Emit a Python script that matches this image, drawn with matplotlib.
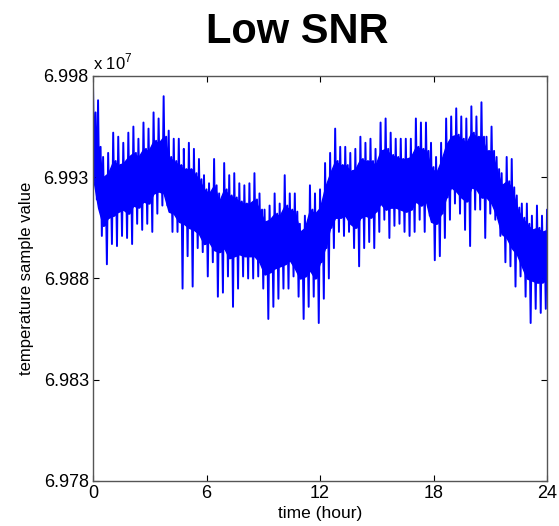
import numpy as np
import matplotlib
matplotlib.use("Agg")
import matplotlib.pyplot as plt

plt.rcParams['font.family'] = ['Liberation Sans', 'DejaVu Sans']

# readings in units of 10^7 (91 samples evenly over 0..24 h)
# upper spike tips
spike_hi = [6.9975, 6.9968, 6.9940, 6.9942, 6.9952, 6.9950, 6.9947, 6.9952, 6.9955, 6.9949,
            6.9957, 6.9954, 6.9962, 6.9959, 6.9970, 6.9953, 6.9949, 6.9949, 6.9944, 6.9947,
            6.9944, 6.9939, 6.9931, 6.9927, 6.9939, 6.9922, 6.9937, 6.9931, 6.9932, 6.9927,
            6.9926, 6.9927, 6.9932, 6.9922, 6.9914, 6.9916, 6.9922, 6.9917, 6.9931, 6.9922,
            6.9922, 6.9907, 6.9911, 6.9926, 6.9922, 6.9924, 6.9937, 6.9942, 6.9954, 6.9945,
            6.9945, 6.9942, 6.9944, 6.9950, 6.9947, 6.9949, 6.9944, 6.9957, 6.9959, 6.9952,
            6.9949, 6.9949, 6.9949, 6.9949, 6.9959, 6.9957, 6.9957, 6.9947, 6.9940, 6.9947,
            6.9959, 6.9960, 6.9964, 6.9960, 6.9959, 6.9965, 6.9960, 6.9967, 6.9950, 6.9955,
            6.9940, 6.9932, 6.9940, 6.9939, 6.9921, 6.9917, 6.9917, 6.9911, 6.9916, 6.9911,
            6.9914]
# lower spike tips
spike_lo = [6.9919, 6.9901, 6.9887, 6.9897, 6.9896, 6.9901, 6.9900, 6.9897, 6.9907, 6.9904,
            6.9907, 6.9903, 6.9912, 6.9916, 6.9916, 6.9903, 6.9903, 6.9875, 6.9891, 6.9876,
            6.9895, 6.9893, 6.9881, 6.9888, 6.9871, 6.9873, 6.9881, 6.9866, 6.9875, 6.9881,
            6.9880, 6.9880, 6.9881, 6.9875, 6.9860, 6.9866, 6.9870, 6.9875, 6.9875, 6.9881,
            6.9871, 6.9860, 6.9866, 6.9871, 6.9858, 6.9870, 6.9880, 6.9895, 6.9903, 6.9901,
            6.9903, 6.9895, 6.9886, 6.9895, 6.9898, 6.9895, 6.9903, 6.9909, 6.9900, 6.9906,
            6.9907, 6.9903, 6.9901, 6.9903, 6.9909, 6.9903, 6.9911, 6.9889, 6.9891, 6.9900,
            6.9909, 6.9917, 6.9912, 6.9904, 6.9896, 6.9914, 6.9914, 6.9900, 6.9912, 6.9909,
            6.9901, 6.9888, 6.9886, 6.9876, 6.9881, 6.9871, 6.9858, 6.9865, 6.9863, 6.9865,
            6.9871]
# edges of the dense core of the trace
core_hi = [6.9962, 6.9945, 6.9930, 6.9932, 6.9938, 6.9936, 6.9937, 6.9940, 6.9942, 6.9940,
           6.9944, 6.9943, 6.9948, 6.9947, 6.9950, 6.9940, 6.9938, 6.9936, 6.9934, 6.9934,
           6.9932, 6.9929, 6.9924, 6.9922, 6.9926, 6.9918, 6.9924, 6.9921, 6.9920, 6.9918,
           6.9917, 6.9917, 6.9919, 6.9914, 6.9908, 6.9909, 6.9912, 6.9911, 6.9916, 6.9914,
           6.9913, 6.9903, 6.9905, 6.9914, 6.9912, 6.9915, 6.9925, 6.9932, 6.9938, 6.9936,
           6.9936, 6.9933, 6.9934, 6.9939, 6.9938, 6.9938, 6.9936, 6.9943, 6.9944, 6.9941,
           6.9940, 6.9939, 6.9939, 6.9940, 6.9945, 6.9944, 6.9943, 6.9935, 6.9932, 6.9938,
           6.9946, 6.9950, 6.9951, 6.9949, 6.9947, 6.9952, 6.9950, 6.9950, 6.9943, 6.9943,
           6.9934, 6.9926, 6.9928, 6.9925, 6.9915, 6.9910, 6.9907, 6.9904, 6.9905, 6.9903,
           6.9904]
core_lo = [6.9930, 6.9915, 6.9906, 6.9910, 6.9911, 6.9913, 6.9914, 6.9912, 6.9916, 6.9915,
           6.9918, 6.9917, 6.9922, 6.9923, 6.9922, 6.9913, 6.9912, 6.9908, 6.9907, 6.9905,
           6.9904, 6.9902, 6.9897, 6.9898, 6.9894, 6.9893, 6.9895, 6.9890, 6.9891, 6.9892,
           6.9891, 6.9891, 6.9891, 6.9888, 6.9882, 6.9883, 6.9885, 6.9886, 6.9887, 6.9889,
           6.9885, 6.9880, 6.9881, 6.9884, 6.9880, 6.9888, 6.9895, 6.9905, 6.9910, 6.9910,
           6.9911, 6.9907, 6.9905, 6.9910, 6.9911, 6.9910, 6.9913, 6.9917, 6.9914, 6.9915,
           6.9915, 6.9914, 6.9913, 6.9914, 6.9918, 6.9916, 6.9918, 6.9908, 6.9907, 6.9912,
           6.9920, 6.9925, 6.9923, 6.9920, 6.9918, 6.9925, 6.9924, 6.9920, 6.9920, 6.9917,
           6.9911, 6.9902, 6.9900, 6.9895, 6.9892, 6.9886, 6.9880, 6.9879, 6.9878, 6.9878,
           6.9880]

x_ticks = [0, 6, 12, 18, 24]
y_ticks = [6.978, 6.983, 6.988, 6.993, 6.998]

# trace: per sample go tip-high, core-low, core-high, tip-low
n = len(spike_hi)
step = 24.0 / (n - 1)
t0 = np.linspace(0, 24, n)
t = np.column_stack([t0, t0 + step / 4, t0 + step / 2, t0 + 3 * step / 4]).ravel()
v = np.column_stack([spike_hi, core_lo, core_hi, spike_lo]).ravel()

fig = plt.figure(figsize=(5.59, 5.26), dpi=100)
ax = fig.add_axes([0.1664, 0.0856, 0.8122, 0.770])

ax.fill_between(t0, core_lo, core_hi, color='#0000ff', lw=1.0)
ax.plot(t, v, color='#0000ff', lw=1.4)

ax.set_xlim(0, 24)
ax.set_ylim(6.978, 6.998)
ax.set_xticks(x_ticks)
ax.set_xticklabels([str(x) for x in x_ticks])
ax.set_yticks(y_ticks)
ax.set_yticklabels(['%.3f' % y for y in y_ticks])
ax.tick_params(direction='in', top=True, right=True, length=4, width=0.8,
               labelsize=13, pad=3)
for s in ax.spines.values():
    s.set_color('#555555')
    s.set_linewidth(1.0)

ax.set_xlabel('time (hour)', fontsize=12.5, labelpad=3)
ax.set_ylabel('temperature sample value', fontsize=12, labelpad=7)
ax.text(0, 1.008, r'x 10$^{\mathregular{7}}$', transform=ax.transAxes,
        fontsize=12, ha='left', va='bottom')

fig.text(297.5 / 559, 1 - 43 / 526, 'Low SNR', fontsize=30, fontweight='bold',
         ha='center', va='baseline')

fig.savefig('out.png', dpi=100)
